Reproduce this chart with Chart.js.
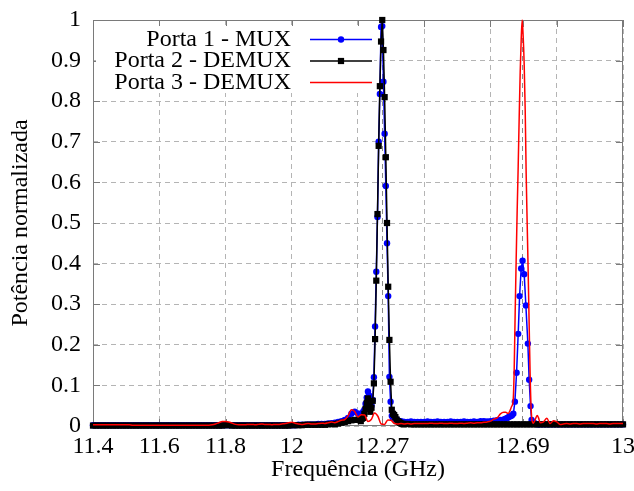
<!DOCTYPE html>
<html>
<head>
<meta charset="utf-8">
<script src="https://cdn.jsdelivr.net/npm/chart.js@4.4.1/dist/chart.umd.min.js"></script>
<style>
  html, body { margin: 0; padding: 0; background: #fff; }
  canvas { display: block; }
</style>
</head>
<body>
<canvas id="spectrumChart" width="634" height="491"></canvas>
<script>
// sample grid (GHz), 0.01 step over the whole band
const freqBase = [
  11.40, 11.41, 11.42, 11.43, 11.44, 11.45, 11.46, 11.47, 11.48, 11.49,
  11.50, 11.51, 11.52, 11.53, 11.54, 11.55, 11.56, 11.57, 11.58, 11.59,
  11.60, 11.61, 11.62, 11.63, 11.64, 11.65, 11.66, 11.67, 11.68, 11.69,
  11.70, 11.71, 11.72, 11.73, 11.74, 11.75, 11.76, 11.77, 11.78, 11.79,
  11.80, 11.81, 11.82, 11.83, 11.84, 11.85, 11.86, 11.87, 11.88, 11.89,
  11.90, 11.91, 11.92, 11.93, 11.94, 11.95, 11.96, 11.97, 11.98, 11.99,
  12.00, 12.01, 12.02, 12.03, 12.04, 12.05, 12.06, 12.07, 12.08, 12.09,
  12.10, 12.11, 12.12, 12.13, 12.14, 12.15, 12.16, 12.17, 12.18, 12.19,
  12.20, 12.21, 12.22, 12.23, 12.24, 12.25, 12.26, 12.27, 12.28, 12.29,
  12.30, 12.31, 12.32, 12.33, 12.34, 12.35, 12.36, 12.37, 12.38, 12.39,
  12.40, 12.41, 12.42, 12.43, 12.44, 12.45, 12.46, 12.47, 12.48, 12.49,
  12.50, 12.51, 12.52, 12.53, 12.54, 12.55, 12.56, 12.57, 12.58, 12.59,
  12.60, 12.61, 12.62, 12.63, 12.64, 12.65, 12.66, 12.67, 12.68, 12.69,
  12.70, 12.71, 12.72, 12.73, 12.74, 12.75, 12.76, 12.77, 12.78, 12.79,
  12.80, 12.81, 12.82, 12.83, 12.84, 12.85, 12.86, 12.87, 12.88, 12.89,
  12.90, 12.91, 12.92, 12.93, 12.94, 12.95, 12.96, 12.97, 12.98, 12.99,
  13.00
];
const muxBase = [
  0.002, 0.002, 0.002, 0.002, 0.002, 0.002, 0.002, 0.002, 0.002, 0.002,
  0.002, 0.002, 0.002, 0.002, 0.002, 0.002, 0.002, 0.002, 0.002, 0.002,
  0.002, 0.002, 0.002, 0.002, 0.002, 0.002, 0.002, 0.002, 0.002, 0.002,
  0.002, 0.002, 0.002, 0.002, 0.002, 0.002, 0.002, 0.002, 0.002, 0.002,
  0.002, 0.002, 0.002, 0.002, 0.002, 0.002, 0.002, 0.002, 0.002, 0.002,
  0.002, 0.002, 0.002, 0.002, 0.002, 0.002, 0.002, 0.002, 0.002, 0.002,
  0.002, 0.002, 0.003, 0.003, 0.003, 0.004, 0.004, 0.004, 0.005, 0.005,
  0.005, 0.006, 0.007, 0.008, 0.010, 0.012, 0.015, 0.020, 0.030, 0.035,
  0.031, 0.035, 0.055, 0.085, 0.050, 0.245, 0.600, 0.983, 0.750, 0.350,
  0.025, 0.016, 0.012, 0.010, 0.010, 0.010, 0.011, 0.010, 0.010, 0.010,
  0.010, 0.011, 0.010, 0.010, 0.011, 0.010, 0.010, 0.010, 0.011, 0.010,
  0.010, 0.010, 0.011, 0.010, 0.010, 0.011, 0.010, 0.012, 0.012, 0.011,
  0.012, 0.013, 0.014, 0.015, 0.016, 0.022, 0.024, 0.030, 0.180, 0.390,
  0.330, 0.120, 0.013, 0.006, 0.005, 0.004, 0.004, 0.004, 0.004, 0.004,
  0.004, 0.004, 0.004, 0.004, 0.004, 0.004, 0.004, 0.004, 0.004, 0.004,
  0.004, 0.004, 0.004, 0.004, 0.004, 0.004, 0.004, 0.004, 0.004, 0.004,
  0.004
];
const demux2Base = [
  0.001, 0.001, 0.001, 0.001, 0.001, 0.001, 0.001, 0.001, 0.001, 0.001,
  0.001, 0.001, 0.001, 0.001, 0.001, 0.001, 0.001, 0.001, 0.001, 0.001,
  0.001, 0.001, 0.001, 0.001, 0.001, 0.001, 0.001, 0.001, 0.001, 0.001,
  0.001, 0.001, 0.001, 0.001, 0.001, 0.001, 0.001, 0.001, 0.001, 0.001,
  0.002, 0.002, 0.001, 0.001, 0.001, 0.001, 0.001, 0.001, 0.001, 0.001,
  0.001, 0.001, 0.001, 0.001, 0.001, 0.001, 0.001, 0.001, 0.001, 0.001,
  0.002, 0.002, 0.002, 0.002, 0.003, 0.003, 0.003, 0.003, 0.003, 0.003,
  0.003, 0.004, 0.005, 0.004, 0.006, 0.008, 0.010, 0.012, 0.014, 0.015,
  0.015, 0.018, 0.040, 0.068, 0.045, 0.160, 0.600, 0.950, 0.800, 0.400,
  0.060, 0.025, 0.012, 0.007, 0.005, 0.005, 0.004, 0.004, 0.004, 0.004,
  0.004, 0.004, 0.004, 0.004, 0.004, 0.004, 0.004, 0.004, 0.004, 0.004,
  0.004, 0.004, 0.004, 0.004, 0.004, 0.004, 0.004, 0.004, 0.004, 0.004,
  0.004, 0.004, 0.004, 0.004, 0.004, 0.004, 0.004, 0.004, 0.004, 0.004,
  0.004, 0.004, 0.004, 0.004, 0.004, 0.004, 0.004, 0.004, 0.004, 0.004,
  0.004, 0.004, 0.004, 0.004, 0.004, 0.004, 0.004, 0.004, 0.004, 0.004,
  0.004, 0.004, 0.004, 0.004, 0.004, 0.004, 0.004, 0.004, 0.004, 0.004,
  0.004
];
const demux3Base = [
  0.003, 0.003, 0.003, 0.003, 0.003, 0.003, 0.003, 0.003, 0.003, 0.003,
  0.003, 0.003, 0.002, 0.002, 0.002, 0.002, 0.002, 0.002, 0.002, 0.002,
  0.002, 0.002, 0.002, 0.002, 0.002, 0.002, 0.002, 0.002, 0.002, 0.002,
  0.002, 0.002, 0.002, 0.002, 0.002, 0.002, 0.003, 0.005, 0.008, 0.011,
  0.011, 0.010, 0.007, 0.004, 0.003, 0.003, 0.003, 0.004, 0.004, 0.003,
  0.004, 0.005, 0.004, 0.004, 0.003, 0.004, 0.004, 0.005, 0.006, 0.008,
  0.009, 0.007, 0.005, 0.004, 0.005, 0.006, 0.005, 0.005, 0.006, 0.007,
  0.006, 0.008, 0.010, 0.008, 0.011, 0.014, 0.016, 0.025, 0.040, 0.036,
  0.022, 0.028, 0.027, 0.011, 0.016, 0.032, 0.024, 0.005, 0.004, 0.015,
  0.014, 0.006, 0.005, 0.006, 0.005, 0.006, 0.005, 0.006, 0.006, 0.006,
  0.006, 0.006, 0.007, 0.006, 0.006, 0.007, 0.006, 0.006, 0.007, 0.006,
  0.006, 0.007, 0.006, 0.007, 0.008, 0.007, 0.008, 0.008, 0.009, 0.010,
  0.012, 0.017, 0.020, 0.030, 0.034, 0.032, 0.048, 0.300, 1.000, 0.640,
  0.120, 0.007, 0.020, 0.026, 0.015, 0.008, 0.010, 0.019, 0.006, 0.013,
  0.010, 0.004, 0.005, 0.006, 0.005, 0.006, 0.006, 0.005, 0.006, 0.006,
  0.006, 0.006, 0.005, 0.006, 0.006, 0.006, 0.005, 0.006, 0.006, 0.006,
  0.006
];

// dense samples round the 12.27 GHz channel (ports 1 and 2)
const freqPeak1 = [
  12.2048, 12.2084, 12.2120, 12.2156, 12.2192, 12.2228, 12.2264, 12.2300, 12.2336, 12.2372,
  12.2408, 12.2444, 12.2480, 12.2516, 12.2552, 12.2588, 12.2624, 12.2660, 12.2696, 12.2732,
  12.2768, 12.2804, 12.2840, 12.2876, 12.2912, 12.2948, 12.2984, 12.3020, 12.3056, 12.3092,
  12.3128, 12.3164, 12.3200, 12.3236, 12.3272, 12.3308, 12.3344, 12.3380
];
const muxPeak1 = [
  0.020, 0.025, 0.031, 0.035, 0.040, 0.055, 0.070, 0.085, 0.075, 0.045,
  0.050, 0.064, 0.120, 0.245, 0.380, 0.515, 0.700, 0.818, 0.983, 0.985,
  0.848, 0.720, 0.591, 0.450, 0.320, 0.121, 0.060, 0.025, 0.020, 0.020,
  0.018, 0.016, 0.014, 0.012, 0.012, 0.011, 0.010, 0.010
];
const demux2Peak1 = [
  0.015, 0.012, 0.018, 0.020, 0.030, 0.042, 0.057, 0.068, 0.050, 0.035,
  0.045, 0.062, 0.105, 0.214, 0.358, 0.522, 0.690, 0.837, 0.947, 1.000,
  0.926, 0.810, 0.662, 0.500, 0.343, 0.212, 0.109, 0.040, 0.030, 0.027,
  0.022, 0.016, 0.012, 0.010, 0.008, 0.006, 0.005, 0.004
];

// dense samples round the 12.69 GHz channel
const freqPeak2 = [
  12.6360, 12.6410, 12.6460, 12.6505, 12.6550, 12.6600, 12.6645, 12.6690, 12.6736, 12.6787,
  12.6836, 12.6878, 12.6926, 12.6968, 12.7017, 12.7068, 12.7128, 12.7167, 12.7209, 12.7240,
  12.7285, 12.7330, 12.7380, 12.7430
];
const muxPeak2 = [
  0.015, 0.016, 0.018, 0.020, 0.022, 0.024, 0.026, 0.030, 0.060, 0.131,
  0.227, 0.320, 0.388, 0.407, 0.374, 0.297, 0.203, 0.114, 0.049, 0.015,
  0.010, 0.007, 0.005, 0.004
];
const freqRedPeak2 = [
  12.6460, 12.6500, 12.6534, 12.6580, 12.6636, 12.6685, 12.6715, 12.6745, 12.6775, 12.6805,
  12.6836, 12.6866, 12.6896, 12.6926, 12.6956, 12.6986, 12.7017, 12.7047, 12.7077, 12.7107,
  12.7137, 12.7167, 12.7198, 12.7228, 12.7258, 12.7289, 12.7330, 12.7370, 12.7410, 12.7450
];
const demux3Peak2 = [
  0.034, 0.032, 0.031, 0.036, 0.048, 0.064, 0.138, 0.280, 0.410, 0.530,
  0.640, 0.760, 0.870, 0.950, 1.000, 0.960, 0.890, 0.780, 0.620, 0.500,
  0.380, 0.250, 0.120, 0.040, 0.012, 0.007, 0.012, 0.020, 0.026, 0.020
];

const seriesNames = ['Porta 1 - MUX', 'Porta 2 - DEMUX', 'Porta 3 - DEMUX'];
const xGridValues = [11.4, 11.6, 11.8, 12.0, 12.2, 12.273, 12.4, 12.6, 12.697, 12.8, 13.0];
const xTickLabels = ['11.4', '11.6', '11.8', '12', '', '12.27', '', '', '12.69', '', '13'];
const yGridValues = [0, 0.1, 0.2, 0.3, 0.4, 0.5, 0.6, 0.7, 0.8, 0.9, 1];
const yTickLabels = ['0', '0.1', '0.2', '0.3', '0.4', '0.5', '0.6', '0.7', '0.8', '0.9', '1'];

// base grid points that fall inside a dense window are replaced by the window samples
function mergeSamples(baseF, baseV, windows) {
  const pts = [];
  baseF.forEach((f, i) => {
    const inside = windows.some(([wf]) => f >= wf[0] && f <= wf[wf.length - 1]);
    if (!inside) pts.push({ x: f, y: baseV[i] });
  });
  windows.forEach(([wf, wv]) => wf.forEach((f, i) => pts.push({ x: f, y: wv[i] })));
  return pts.sort((a, b) => a.x - b.x);
}

const serif = 'Liberation Serif';
const fontMain = { family: serif, size: 24 };

const frameAndTicks = {
  id: 'frameAndTicks',
  beforeDatasetsDraw(chart) {
    const { ctx, chartArea: a, scales: { x, y } } = chart;
    ctx.save();
    ctx.strokeStyle = '#7a7a7a';
    ctx.lineWidth = 1;
    ctx.setLineDash([]);
    ctx.strokeRect(Math.round(a.left) + 0.5, Math.round(a.top) + 0.5,
      Math.round(a.right - a.left) - 1, Math.round(a.bottom - a.top) - 1);
    ctx.beginPath();
    xGridValues.forEach(v => {
      const px = Math.round(x.getPixelForValue(v)) + 0.5;
      ctx.moveTo(px, a.bottom); ctx.lineTo(px, a.bottom - 7);
      ctx.moveTo(px, a.top); ctx.lineTo(px, a.top + 7);
    });
    yGridValues.forEach(v => {
      const py = Math.round(y.getPixelForValue(v)) + 0.5;
      ctx.moveTo(a.left, py); ctx.lineTo(a.left + 7, py);
      ctx.moveTo(a.right, py); ctx.lineTo(a.right - 7, py);
    });
    ctx.stroke();
    ctx.restore();
  }
};

const keyBox = {
  id: 'keyBox',
  afterDatasetsDraw(chart) {
    const { ctx, chartArea: a } = chart;
    ctx.save();
    ctx.fillStyle = '#fff';
    ctx.fillRect(a.left + 3, a.top + 6, 278, 67);
    chart.data.datasets.forEach((ds, i) => {
      const yRow = a.top + 19.5 + i * 21.5;
      ctx.fillStyle = '#000';
      ctx.font = '24px "' + serif + '"';
      ctx.textAlign = 'right';
      ctx.textBaseline = 'alphabetic';
      ctx.fillText(ds.label, a.left + 198, yRow + 6);
      ctx.strokeStyle = ds.borderColor;
      ctx.lineWidth = ds.borderWidth;
      ctx.beginPath();
      ctx.moveTo(a.left + 217, yRow);
      ctx.lineTo(a.left + 279, yRow);
      ctx.stroke();
      if (ds.pointRadius > 0) {
        ctx.fillStyle = ds.pointBackgroundColor;
        Chart.helpers.drawPoint(ctx, { pointStyle: ds.pointStyle, radius: ds.pointRadius, borderWidth: 0, rotation: 0 }, a.left + 248, yRow);
      }
    });
    ctx.restore();
  }
};

new Chart(document.getElementById('spectrumChart'), {
  type: 'line',
  data: {
    datasets: [
      {
        label: seriesNames[0],
        data: mergeSamples(freqBase, muxBase, [[freqPeak1, muxPeak1], [freqPeak2, muxPeak2]]),
        borderColor: '#0000ff', backgroundColor: '#0000ff', borderWidth: 1.5,
        pointStyle: 'circle', pointRadius: 3.2, pointBackgroundColor: '#0000ff', pointBorderWidth: 0,
        order: 3, clip: 6
      },
      {
        label: seriesNames[1],
        data: mergeSamples(freqBase, demux2Base, [[freqPeak1, demux2Peak1]]),
        borderColor: '#000000', backgroundColor: '#000000', borderWidth: 1.5,
        pointStyle: 'rect', pointRadius: 4.4, pointBackgroundColor: '#000000', pointBorderWidth: 0,
        order: 2, clip: 6
      },
      {
        label: seriesNames[2],
        data: mergeSamples(freqBase, demux3Base, [[freqRedPeak2, demux3Peak2]]),
        borderColor: '#ff0000', backgroundColor: '#ff0000', borderWidth: 1.5,
        pointRadius: 0, cubicInterpolationMode: 'monotone',
        order: 1, clip: 3
      }
    ]
  },
  options: {
    responsive: false,
    animation: false,
    devicePixelRatio: 1,
    layout: { padding: { left: 0, right: 11, top: 20, bottom: 0 } },
    plugins: { legend: { display: false }, tooltip: { enabled: false } },
    scales: {
      x: {
        type: 'linear', min: 11.4, max: 13,
        afterBuildTicks: axis => { axis.ticks = xGridValues.map(v => ({ value: v })); },
        afterFit: s => { s.height = 65; s.paddingLeft = 0; s.paddingRight = 0; },
        ticks: { autoSkip: false, maxRotation: 0, padding: 6, color: '#000', font: fontMain,
          callback: (v, i) => xTickLabels[i] },
        grid: { drawTicks: false, lineWidth: 1,
          color: c => (c.tick && (c.tick.value === 12.273 || c.tick.value === 12.697)) ? '#8a8a8a' : '#b4b4b4' },
        border: { display: false, dash: [5, 4] },
        title: { display: true, text: 'Frequência (GHz)', color: '#000', font: fontMain, padding: { top: 0, bottom: 7 } }
      },
      y: {
        min: 0, max: 1,
        afterBuildTicks: axis => { axis.ticks = yGridValues.map(v => ({ value: v })); },
        afterFit: s => { s.width = 93; s.paddingTop = 0; s.paddingBottom = 0; },
        ticks: { padding: 12, color: '#000', font: fontMain, callback: (v, i) => yTickLabels[i] },
        grid: { drawTicks: false, lineWidth: 1, color: '#b4b4b4' },
        border: { display: false, dash: [5, 4] },
        title: { display: true, text: 'Potência normalizada', color: '#000', font: fontMain, padding: { top: 6, bottom: 0 } }
      }
    }
  },
  plugins: [frameAndTicks, keyBox]
});
</script>
</body>
</html>
